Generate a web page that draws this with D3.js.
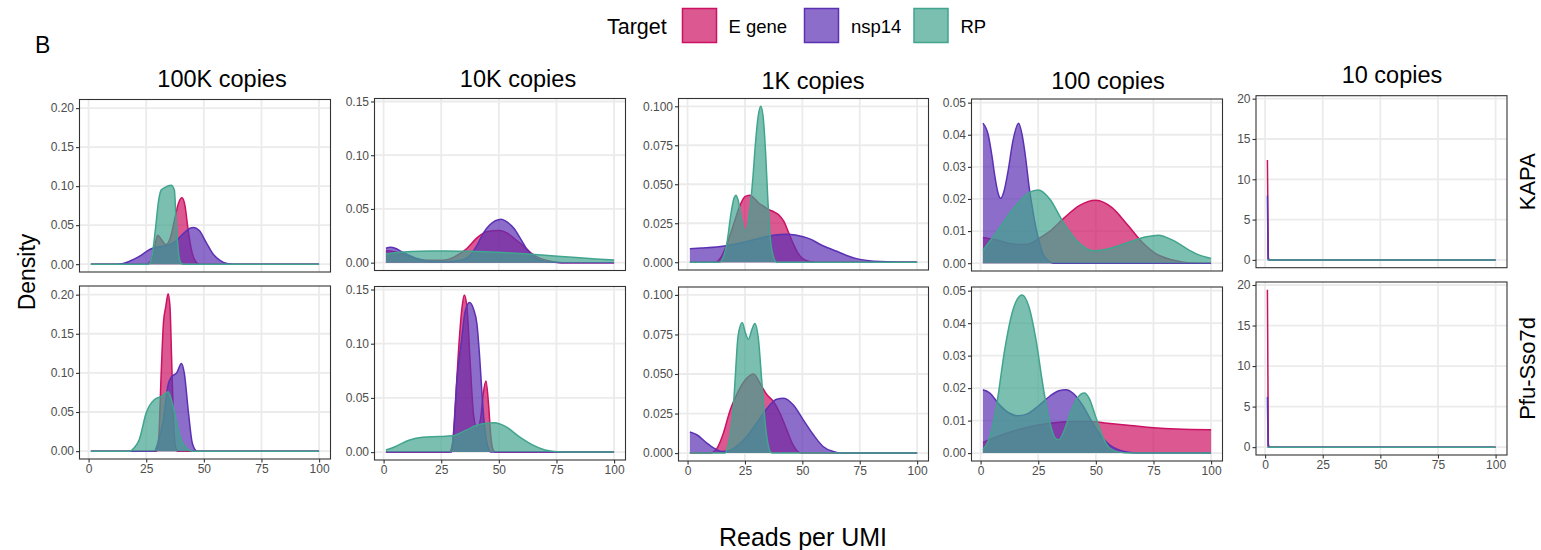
<!DOCTYPE html>
<html>
<head>
<meta charset="utf-8">
<script src="https://cdn.jsdelivr.net/npm/d3@7"></script>
<style>
body { margin: 0; background: #fff; }
text { font-family: "Liberation Sans", Arial, Helvetica, sans-serif; }
</style>
</head>
<body>
<div id="chart"></div>
<script>
// density curves: [reads per UMI, density]
// 100K copies
var kapa100K_E = [[1,0],[25,0],[27,0.004],[28.5,0.02],[30,0.037],[31.5,0.032],[33.5,0.025],[35.5,0.034],[37.5,0.06],[39,0.078],[40.5,0.085],[41.8,0.075],[43,0.048],[44.5,0.02],[46.5,0.003],[48,0],[100,0]];
var kapa100K_N = [[1,0],[12,0],[15,0.0008],[18,0.004],[22,0.01],[25,0.016],[27.5,0.02],[30,0.022],[32.5,0.023],[35,0.025],[38,0.03],[41,0.039],[44,0.046],[45.5,0.047],[48,0.043],[51,0.028],[54,0.013],[57,0.005],[60,0.001],[63,0],[100,0]];
var kapa100K_R = [[1,0],[26,0],[27.5,0.01],[29,0.045],[30.4,0.082],[31.5,0.095],[33,0.098],[35.8,0.101],[37.2,0.095],[38,0.055],[39.1,0.012],[40.2,0.001],[41,0],[100,0]];
var pfu100K_E = [[1,0],[29.5,0],[30.5,0.02],[31.5,0.1],[32.5,0.165],[33.5,0.185],[34.5,0.201],[35.3,0.185],[36,0.12],[36.7,0.05],[37.5,0.01],[38.5,0],[100,0]];
var pfu100K_N = [[1,0],[28.5,0],[30,0.01],[32.2,0.036],[34.5,0.085],[36,0.095],[38.2,0.1],[40.3,0.112],[41.5,0.1],[43.3,0.05],[45,0.01],[47,0],[100,0]];
var pfu100K_R = [[1,0],[17.5,0],[20,0.005],[22,0.015],[25,0.049],[28.6,0.066],[31.6,0.07],[34.5,0.076],[36.7,0.057],[39.6,0.019],[43.3,0.002],[45,0],[100,0]];
// 10K copies
var kapa10K_E = [[1,0.011],[4,0.0105],[8,0.0085],[12,0.005],[16,0.003],[20,0.0022],[24,0.0022],[28,0.003],[32,0.007],[36,0.013],[41,0.024],[45,0.029],[50,0.030],[54,0.027],[57,0.022],[61,0.015],[64,0.009],[68,0.004],[72,0.0015],[77,0],[100,0]];
var kapa10K_N = [[1,0.0135],[3,0.0144],[5,0.0135],[8,0.01],[12,0.006],[15,0.0035],[19,0.0015],[22,0.001],[28,0.001],[33,0.002],[37.6,0.007],[40.5,0.016],[43.4,0.028],[46,0.035],[48.5,0.039],[51,0.0405],[53.5,0.038],[56.5,0.032],[59.5,0.022],[62,0.013],[64,0.008],[67,0.003],[71,0.001],[77,0],[100,0]];
var kapa10K_R = [[1,0.008],[6,0.0095],[12,0.0104],[20,0.0108],[27,0.0108],[35,0.0106],[41,0.0104],[50,0.0096],[57,0.0088],[63,0.008],[70,0.007],[77,0.0058],[85,0.0045],[92,0.0035],[100,0.0025]];
var pfu10K_E = [[1,0],[28.5,0],[30,0.01],[31,0.04],[32.6,0.097],[34,0.133],[35,0.145],[36.2,0.133],[37.6,0.081],[39,0.035],[40.5,0.022],[42,0.03],[43.3,0.055],[44.4,0.0655],[45.5,0.045],[46.5,0.015],[47.5,0.002],[48.5,0],[100,0]];
var pfu10K_N = [[1,0],[29.5,0],[30.5,0.02],[31.8,0.066],[33.8,0.103],[35.4,0.13],[37.3,0.138],[39,0.132],[40.5,0.118],[41.6,0.09],[42.6,0.057],[43.4,0.033],[44.5,0.012],[45.5,0.003],[46.5,0],[100,0]];
var pfu10K_R = [[1,0.002],[5,0.005],[11,0.011],[17,0.0137],[24,0.0143],[30,0.015],[35.6,0.02],[41.4,0.0256],[48,0.027],[53,0.0235],[58.8,0.0143],[64.6,0.0067],[70,0.002],[76,0.0003],[80,0],[100,0]];
// 1K copies
var kapa1K_E = [[1,0],[12,0],[14.5,0.003],[17,0.011],[20,0.024],[23,0.037],[25,0.042],[27,0.043],[29,0.041],[31,0.038],[33,0.036],[35,0.034],[38,0.032],[40,0.03],[42,0.026],[44,0.019],[46,0.012],[48,0.006],[50,0.0025],[53,0.0005],[56,0],[100,0]];
var kapa1K_N = [[1,0.0087],[6,0.0091],[12.7,0.0097],[18.5,0.011],[25,0.013],[33,0.016],[38,0.0175],[43,0.018],[47,0.0175],[50,0.0165],[54,0.0145],[57,0.012],[61,0.0093],[65,0.007],[69,0.0045],[73.6,0.0023],[79,0.001],[84,0.0004],[90,0.0001],[100,0]];
var kapa1K_R = [[1,0],[14,0],[15.5,0.003],[17,0.011],[19,0.032],[20.2,0.041],[21,0.043],[22,0.04],[23.5,0.028],[25.3,0.0197],[27,0.032],[28.5,0.055],[29.5,0.075],[30.8,0.094],[31.9,0.1],[33,0.092],[34,0.07],[35,0.039],[36,0.016],[37.3,0.004],[38.8,0],[100,0]];
var pfu1K_E = [[1,0],[9.9,0],[12.8,0.003],[15.6,0.0126],[18.5,0.027],[21.4,0.037],[25,0.046],[28.7,0.05],[31.6,0.044],[34.5,0.037],[37.4,0.0326],[40.3,0.025],[43.2,0.0147],[46,0.005],[48,0.001],[49.5,0],[100,0]];
var pfu1K_N = [[1,0.0133],[4,0.0116],[8.4,0.0063],[12.8,0.002],[15,0.001],[18,0.0015],[22,0.005],[25.8,0.0105],[30.1,0.019],[34.5,0.028],[38.8,0.034],[42,0.0347],[46,0.0305],[50.4,0.021],[54.8,0.0116],[59,0.0042],[63.5,0.001],[67,0],[100,0]];
var pfu1K_R = [[1,0],[16.4,0],[17.5,0.004],[18.5,0.0105],[20,0.03],[20.7,0.046],[22,0.074],[23.8,0.0825],[25.2,0.076],[26.5,0.072],[28,0.078],[29.3,0.082],[30.9,0.0716],[32.3,0.046],[33.8,0.019],[35,0.006],[36,0.001],[37,0],[100,0]];
// 100 copies
var kapa100_E = [[1,0.008],[7,0.0072],[12,0.0062],[17,0.0058],[21,0.006],[25.5,0.0078],[30,0.0099],[35.8,0.0138],[43,0.018],[50,0.0196],[57,0.0173],[64,0.0117],[70,0.0066],[76,0.003],[82,0.0012],[88,0.0003],[94,0],[100,0]];
var kapa100_N = [[1,0.0436],[3.3,0.04],[5,0.033],[6.2,0.027],[7.5,0.022],[8.7,0.0202],[10,0.022],[12,0.029],[14,0.038],[16.5,0.0436],[18,0.04],[19.5,0.033],[21,0.024],[22.5,0.017],[24,0.011],[25.5,0.0065],[27,0.003],[29,0.001],[31.5,0],[100,0]];
var kapa100_R = [[1,0.004],[7,0.0097],[14,0.0168],[21,0.022],[25,0.0228],[30,0.020],[35.8,0.0128],[43,0.0061],[48.8,0.0039],[56,0.0046],[64.6,0.0066],[71.9,0.0082],[77,0.0087],[83.5,0.0071],[90.6,0.004],[95,0.0025],[100,0.0015]];
var pfu100_E = [[1,0.0033],[10,0.0058],[20,0.0079],[30,0.0092],[40,0.0097],[47,0.0097],[55,0.0092],[65,0.0085],[75,0.0078],[85,0.0074],[100,0.0072]];
var pfu100_N = [[1,0.0195],[4,0.0185],[8,0.015],[12,0.0125],[16,0.0115],[20,0.012],[25,0.0145],[30,0.0175],[34,0.0192],[37,0.0195],[40,0.0185],[44,0.015],[48,0.01],[52,0.0055],[56,0.0025],[60,0.001],[65,0.0002],[70,0],[100,0]];
var pfu100_R = [[1,0.001],[4,0.005],[7,0.015],[10.5,0.032],[14,0.044],[18,0.0487],[21,0.045],[24,0.035],[27,0.021],[30,0.0095],[32.5,0.0045],[34,0.0041],[36,0.0065],[39,0.0125],[42,0.017],[45,0.0185],[47,0.017],[50,0.011],[53,0.005],[56,0.0015],[60,0.0003],[65,0],[100,0]];
// 10 copies
var kapa10_E = [[1,12.4],[1.4,0.3],[1.8,0],[100,0]];
var kapa10_N = [[1,8.0],[1.4,0.2],[1.8,0],[100,0]];
var kapa10_R = [[1,0],[100,0]];
var pfu10_E = [[1,19.4],[1.4,0.4],[1.8,0],[100,0]];
var pfu10_N = [[1,6.2],[1.4,0.2],[1.8,0],[100,0]];
var pfu10_R = [[1,0],[100,0]];

var targets = ["E gene", "nsp14", "RP"];
var copyLabels = ["100K copies", "10K copies", "1K copies", "100 copies", "10 copies"];
var polymerases = ["KAPA", "Pfu-Sso7d"];
var xTicks = [0, 25, 50, 75, 100];
var yTicks = [[0,0.05,0.10,0.15,0.20],[0,0.05,0.10,0.15],[0,0.025,0.05,0.075,0.1],[0,0.01,0.02,0.03,0.04,0.05],[0,5,10,15,20]];
var yFormats = [".2f", ".2f", ".3f", ".2f", "d"];

var curves = [
  [[kapa100K_E, kapa100K_N, kapa100K_R], [pfu100K_E, pfu100K_N, pfu100K_R]],
  [[kapa10K_E, kapa10K_N, kapa10K_R], [pfu10K_E, pfu10K_N, pfu10K_R]],
  [[kapa1K_E, kapa1K_N, kapa1K_R], [pfu1K_E, pfu1K_N, pfu1K_R]],
  [[kapa100_E, kapa100_N, kapa100_R], [pfu100_E, pfu100_N, pfu100_R]],
  [[kapa10_E, kapa10_N, kapa10_R], [pfu10_E, pfu10_N, pfu10_R]]
];

// layout of each column (the sub plots are not perfectly aligned)
var cols = [
  {x0: 79.5,  x1: 330.5,  rows: [[99.5, 272], [286, 459]],   tx: 222,  ty: 87},
  {x0: 374.5, x1: 625.5,  rows: [[98.5, 270.5], [286.5, 460]], tx: 518,  ty: 87},
  {x0: 678.5, x1: 928.5,  rows: [[98.5, 270], [287, 461]],   tx: 813,  ty: 89},
  {x0: 971.5, x1: 1222.5, rows: [[99, 271], [287, 461]],     tx: 1108, ty: 89},
  {x0: 1256,  x1: 1507,   rows: [[95.7, 267.7], [282, 455]], tx: 1392, ty: 83.3}
];

var strokeCol = d3.scaleOrdinal().domain(targets).range(["#CC1163", "#5B31B3", "#41A48E"]);
var fillAlpha = 0.7;

var W = 1541, H = 550;
var svg = d3.select("#chart").append("svg")
    .attr("width", W)
    .attr("height", H);

cols.forEach(function(c, ci) {
    var x = d3.scaleLinear().domain([1 - 4.95, 100 + 4.95]).range([c.x0, c.x1]);
    var ymax = d3.max(curves[ci], function(row) {
        return d3.max(row, function(s) { return d3.max(s, function(d) { return d[1]; }); });
    });
    ymax = Math.max(ymax, d3.max(yTicks[ci]) * 0.97);

    svg.append("text")
        .attr("x", c.tx).attr("y", c.ty)
        .attr("text-anchor", "middle")
        .style("font-size", "23.5px")
        .attr("fill", "#000")
        .text(copyLabels[ci]);

    c.rows.forEach(function(r, ri) {
        var y = d3.scaleLinear().domain([-0.05 * ymax, 1.05 * ymax]).range([r[1], r[0]]);
        var g = svg.append("g");

        g.append("rect")
            .attr("x", c.x0).attr("y", r[0])
            .attr("width", c.x1 - c.x0).attr("height", r[1] - r[0])
            .attr("fill", "#fff");

        // grid
        g.selectAll(".gx").data(xTicks).enter().append("line")
            .attr("x1", function(d) { return x(d); }).attr("x2", function(d) { return x(d); })
            .attr("y1", r[0]).attr("y2", r[1])
            .attr("stroke", "#EBEBEB").attr("stroke-width", 1.8);
        g.selectAll(".gy").data(yTicks[ci]).enter().append("line")
            .attr("x1", c.x0).attr("x2", c.x1)
            .attr("y1", function(d) { return y(d); }).attr("y2", function(d) { return y(d); })
            .attr("stroke", "#EBEBEB").attr("stroke-width", 1.8);

        var area = d3.area()
            .x(function(d) { return x(d[0]); })
            .y0(y(0))
            .y1(function(d) { return y(d[1]); })
            .curve(d3.curveMonotoneX);
        var line = d3.line()
            .x(function(d) { return x(d[0]); })
            .y(function(d) { return y(d[1]); })
            .curve(d3.curveMonotoneX);

        curves[ci][ri].forEach(function(s, si) {
            g.append("path")
                .attr("d", area(s))
                .attr("fill", strokeCol(targets[si]))
                .attr("fill-opacity", fillAlpha);
            g.append("path")
                .attr("d", line(s))
                .attr("fill", "none")
                .attr("stroke", strokeCol(targets[si]))
                .attr("stroke-width", 1.5);
        });

        g.append("rect")
            .attr("x", c.x0).attr("y", r[0])
            .attr("width", c.x1 - c.x0).attr("height", r[1] - r[0])
            .attr("fill", "none")
            .attr("stroke", "#333").attr("stroke-width", 1.1);

        var ya = g.append("g")
            .attr("transform", "translate(" + c.x0 + ",0)")
            .call(d3.axisLeft(y).tickValues(yTicks[ci]).tickFormat(d3.format(yFormats[ci])).tickSize(3.5).tickPadding(2));
        ya.select(".domain").remove();
        ya.selectAll("line").attr("stroke", "#333").attr("stroke-width", 1.1);
        ya.selectAll("text").attr("fill", "#4D4D4D").style("font-size", "12px")
            .style("font-family", "'Liberation Sans', Arial, sans-serif");

        if (ri === 1) {
            var xa = g.append("g")
                .attr("transform", "translate(0," + r[1] + ")")
                .call(d3.axisBottom(x).tickValues(xTicks).tickSize(3.5).tickPadding(2));
            xa.select(".domain").remove();
            xa.selectAll("line").attr("stroke", "#333").attr("stroke-width", 1.1);
            xa.selectAll("text").attr("fill", "#4D4D4D").style("font-size", "12px")
                .style("font-family", "'Liberation Sans', Arial, sans-serif");
        }

        if (ci === cols.length - 1) {
            var sy = (r[0] + r[1]) / 2;
            svg.append("text")
                .attr("transform", "translate(1535," + sy + ") rotate(-90)")
                .attr("text-anchor", "middle")
                .style("font-size", "22px")
                .text(polymerases[ri]);
        }
    });
});

// axis titles
svg.append("text")
    .attr("transform", "translate(35,272) rotate(-90)")
    .attr("text-anchor", "middle")
    .style("font-size", "23px")
    .text("Density");
svg.append("text")
    .attr("x", 803).attr("y", 546)
    .attr("text-anchor", "middle")
    .style("font-size", "25px")
    .text("Reads per UMI");

svg.append("text")
    .attr("x", 35).attr("y", 53)
    .style("font-size", "23px")
    .text("B");

// legend
var leg = svg.append("g");
leg.append("text")
    .attr("x", 607).attr("y", 33.5)
    .style("font-size", "21.5px")
    .text("Target");
var legX = [682.5, 804.5, 914];
var legTx = [728.5, 851, 960.5];
targets.forEach(function(t, i) {
    leg.append("rect")
        .attr("x", legX[i]).attr("y", 8.5)
        .attr("width", 34).attr("height", 34)
        .attr("fill", strokeCol(t)).attr("fill-opacity", fillAlpha)
        .attr("stroke", strokeCol(t)).attr("stroke-width", 1.5);
    leg.append("text")
        .attr("x", legTx[i]).attr("y", 32.5)
        .style("font-size", "18.5px")
        .text(t);
});
</script>
</body>
</html>
